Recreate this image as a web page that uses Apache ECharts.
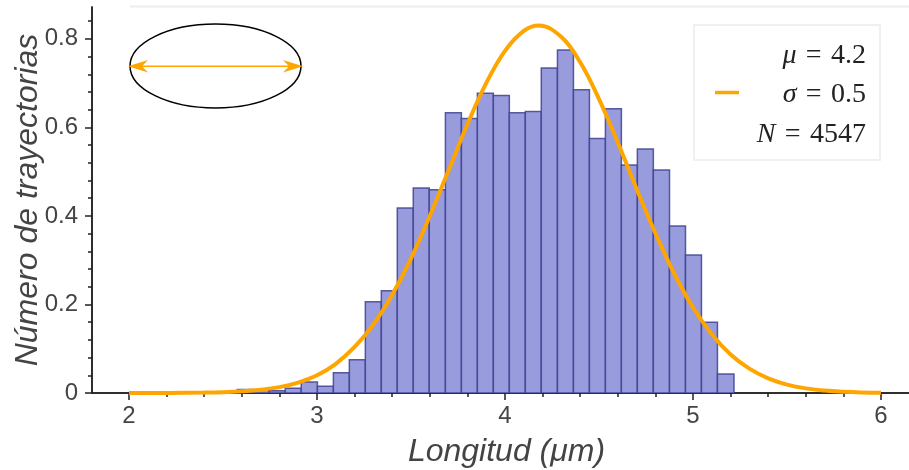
<!DOCTYPE html>
<html>
<head>
<meta charset="utf-8">
<style>
html, body { margin: 0; padding: 0; background: #fff; }
#chart { width: 909px; height: 470px; }
</style>
<script src="https://cdn.jsdelivr.net/npm/echarts@6/dist/echarts.min.js"></script>
</head>
<body>
<div id="chart"></div>
<script>
// histograma: bordes de cada barra y altura
var binEdges = [2.576, 2.661, 2.746, 2.831, 2.916, 3.002, 3.087, 3.172, 3.257, 3.342, 3.427,
    3.512, 3.597, 3.683, 3.768, 3.853, 3.938, 4.023, 4.108, 4.193, 4.279, 4.364, 4.449, 4.534,
    4.619, 4.704, 4.789, 4.875, 4.960, 5.045, 5.130, 5.218];
var binHeights = [0.008, 0.006, 0.005, 0.011, 0.025, 0.015, 0.046, 0.075, 0.206, 0.231, 0.418,
    0.463, 0.459, 0.633, 0.620, 0.677, 0.672, 0.633, 0.636, 0.734, 0.775, 0.685, 0.575, 0.642,
    0.515, 0.551, 0.504, 0.377, 0.312, 0.160, 0.043];

// curva
var curveX = [2.0, 2.2, 2.4, 2.5, 2.6, 2.7, 2.8, 2.9, 3.0, 3.1, 3.2, 3.3, 3.4, 3.5, 3.6, 3.7, 3.8,
    3.9, 4.0, 4.1, 4.18, 4.3, 4.4, 4.5, 4.6, 4.7, 4.8, 4.9, 5.0, 5.1, 5.2, 5.3, 5.4, 5.5, 5.6, 5.7,
    5.8, 5.9, 6.0];
var curveY = [0.0, 0.0002, 0.0009, 0.0018, 0.0037, 0.0072, 0.0133, 0.0236, 0.040, 0.066, 0.104,
    0.155, 0.222, 0.304, 0.400, 0.503, 0.607, 0.700, 0.773, 0.818, 0.830, 0.804, 0.747, 0.664,
    0.566, 0.461, 0.361, 0.270, 0.193, 0.133, 0.087, 0.055, 0.033, 0.019, 0.0104, 0.0055, 0.0027,
    0.0012, 0.0005];

// ticks
var xMajorTicks = [2, 3, 4, 5, 6];
var xMinorTicks = [2.2, 2.4, 2.6, 2.8, 3.2, 3.4, 3.6, 3.8, 4.2, 4.4, 4.6, 4.8, 5.2, 5.4, 5.6, 5.8];
var yMajorTicks = [0, 0.2, 0.4, 0.6, 0.8];
var yMinorTicks = [0.04, 0.08, 0.12, 0.16, 0.24, 0.28, 0.32, 0.36, 0.44, 0.48, 0.52, 0.56,
    0.64, 0.68, 0.72, 0.76, 0.84];

var legendRows = ['{i|μ}\u2004=\u20044.2', '{i|σ}\u2004=\u20040.5', '{i|N}\u2004=\u20044547'];

var axisColor = '#222';
var textColor = '#444';
var orange = '#ffa500';
var sansFont = '"Liberation Sans", Arial, sans-serif';
var mathFont = '"Liberation Serif", serif';

function pairs(xs, ys) {
    var out = [];
    for (var i = 0; i < xs.length; i++) {
        out.push([xs[i], ys[i]]);
    }
    return out;
}

function histData() {
    var out = [];
    for (var i = 0; i < binHeights.length; i++) {
        out.push([binEdges[i], binEdges[i + 1], binHeights[i]]);
    }
    return out;
}

function renderBin(params, api) {
    var p0 = api.coord([api.value(0), api.value(2)]);
    var p1 = api.coord([api.value(1), 0]);
    return {
        type: 'rect',
        shape: { x: p0[0], y: p0[1], width: p1[0] - p0[0], height: p1[1] - p0[1] },
        style: { fill: '#989cdd', stroke: 'rgba(62,66,145,0.85)', lineWidth: 1.5 }
    };
}

function xAxisOf(ticks, len, withLabels) {
    return {
        type: 'value', min: 1.803, max: 6.149, position: 'bottom',
        splitLine: { show: false },
        axisLine: { show: true, onZero: false, lineStyle: { color: axisColor, width: 1.5 } },
        axisTick: { show: true, customValues: ticks, length: len, lineStyle: { color: axisColor, width: 1.5 } },
        axisLabel: withLabels ? {
            customValues: ticks, color: textColor, fontFamily: sansFont, fontSize: 24, margin: 11
        } : { show: false },
        name: withLabels ? 'Longitud (μm)' : '',
        nameLocation: 'middle', nameGap: 43,
        nameTextStyle: { color: textColor, fontFamily: sansFont, fontSize: 32, fontStyle: 'italic', padding: [0, 0, 0, 12] }
    };
}

function yAxisOf(ticks, len, withLabels) {
    return {
        type: 'value', min: 0, max: 0.872, position: 'left',
        splitLine: { show: false },
        axisLine: { show: true, onZero: false, lineStyle: { color: axisColor, width: 1.5 } },
        axisTick: { show: true, customValues: ticks, length: len, lineStyle: { color: axisColor, width: 1.5 } },
        axisLabel: withLabels ? {
            customValues: ticks, color: textColor, fontFamily: sansFont, fontSize: 24, margin: 14,
            formatter: function (v) { return v === 0 ? '0' : v.toFixed(1); }
        } : { show: false },
        name: withLabels ? 'Número de trayectorias' : '',
        nameLocation: 'middle', nameGap: 48, nameRotate: 90, nameMoveOverlap: false,
        nameTextStyle: { color: textColor, fontFamily: sansFont, fontSize: 32, fontStyle: 'italic' }
    };
}

var legendText = legendRows.map(function (row, i) {
    return {
        type: 'text', z: 20, right: 43, top: [42, 81, 121][i],
        style: {
            text: row, fill: '#222', font: '28px ' + mathFont,
            rich: {
                i: { fontFamily: mathFont, fontSize: 28, fontStyle: 'italic', fill: '#222' }
            }
        }
    };
});

var chart = echarts.init(document.getElementById('chart'), null, { renderer: 'canvas' });
chart.setOption({
    animation: false,
    backgroundColor: '#fff',
    grid: { left: 92, right: 0, top: 7, bottom: 77, outerBoundsMode: 'none' },
    xAxis: [xAxisOf(xMajorTicks, 7, true), xAxisOf(xMinorTicks, 4, false)],
    yAxis: [yAxisOf(yMajorTicks, 7, true), yAxisOf(yMinorTicks, 4, false)],
    series: [
        {
            type: 'custom', renderItem: renderBin, data: histData(), z: 2, clip: true,
            encode: { x: [0, 1], y: 2 }
        },
        {
            type: 'line', data: pairs(curveX, curveY), smooth: 0.4, showSymbol: false, z: 3,
            lineStyle: { color: orange, width: 4 }
        }
    ],
    graphic: [
        // borde superior
        { type: 'line', z: 1, shape: { x1: 130, y1: 6.5, x2: 909, y2: 6.5 }, style: { stroke: '#eeeeee', lineWidth: 2 } },
        // elipse con flecha
        { type: 'ellipse', z: 10, shape: { cx: 215.5, cy: 66, rx: 85.5, ry: 42 }, style: { fill: 'none', stroke: '#000', lineWidth: 1.5 } },
        { type: 'line', z: 11, shape: { x1: 132, y1: 66.3, x2: 299, y2: 66.3 }, style: { stroke: orange, lineWidth: 1.5 } },
        { type: 'polygon', z: 11, shape: { points: [[128, 66.3], [148, 60], [142, 66.3], [148, 72.5]] }, style: { fill: orange } },
        { type: 'polygon', z: 11, shape: { points: [[303, 66.3], [283, 60], [289, 66.3], [283, 72.5]] }, style: { fill: orange } },
        // leyenda
        { type: 'rect', z: 15, shape: { x: 694, y: 25, width: 186, height: 135 }, style: { fill: '#fff', stroke: '#f0f0f0', lineWidth: 2 } },
        { type: 'line', z: 16, shape: { x1: 715, y1: 92.5, x2: 739, y2: 92.5 }, style: { stroke: orange, lineWidth: 3.5 } }
    ].concat(legendText)
});
</script>
</body>
</html>
